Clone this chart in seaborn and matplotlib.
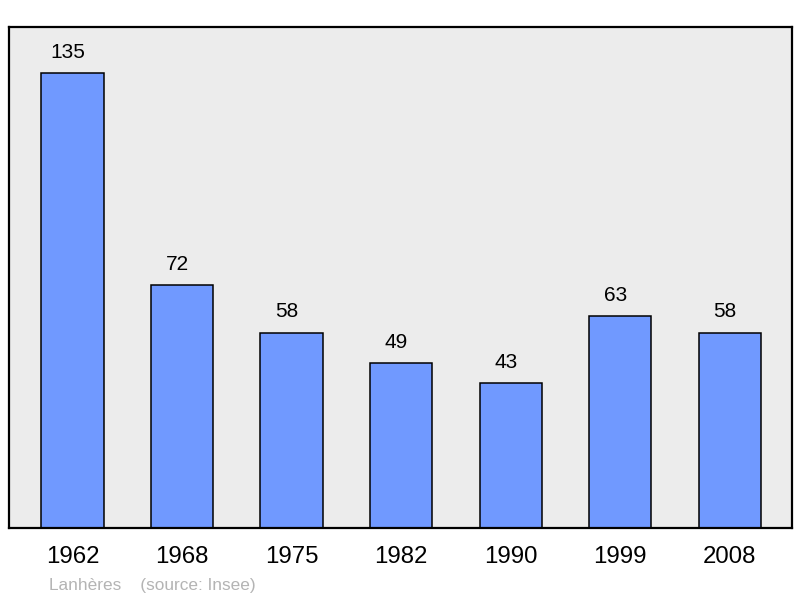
import matplotlib
matplotlib.use("Agg")
import matplotlib.pyplot as plt
import seaborn as sns
import pandas as pd

years = ["1962", "1968", "1975", "1982", "1990", "1999", "2008"]
population = [135, 72, 58, 49, 43, 63, 58]

sns.set_theme(style="white")
plt.rcParams['font.family'] = ['Liberation Sans', 'DejaVu Sans']

df = pd.DataFrame({"year": years, "population": population})

fig = plt.figure(figsize=(8, 5.98), dpi=100)
ax = fig.add_axes([9 / 800, 1 - 528 / 598, 783 / 800, 501 / 598])
ax.set_facecolor("#ececec")

sns.barplot(data=df, x="year", y="population", color="#7099ff", saturation=1,
            width=0.567, edgecolor="black", linewidth=1.1, ax=ax)

# value labels sit a little left of the bar centre, as in the original
for i, v in enumerate(population):
    ax.annotate(str(v), (i, v), xytext=(-3.5, 8), textcoords="offset points",
                ha="center", va="bottom", fontsize=15, color="black")

ax.set_xlim(-0.58, 6.57)
ax.set_ylim(0, 148.7)
ax.set_yticks([])
ax.set_xlabel("")
ax.set_ylabel("")
ax.tick_params(axis="x", length=0, pad=13, labelsize=17.3, labelcolor="black")
for s in ax.spines.values():
    s.set_visible(True)
    s.set_color("black")
    s.set_linewidth(1.6)

fig.text(49 / 800, 1 - 590 / 598, "Lanhères    (source: Insee)", fontsize=12.4,
         color="#b4b4b4", ha="left", va="baseline")

fig.savefig("out.png", dpi=100)
plt.close(fig)
